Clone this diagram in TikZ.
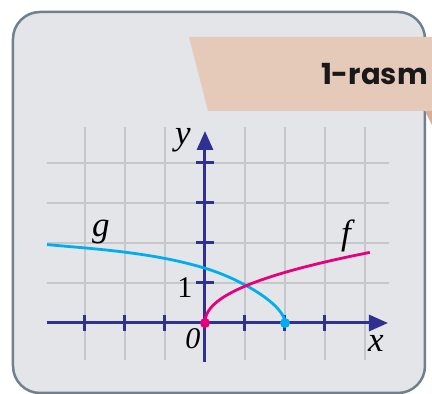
\documentclass[tikz,border=0pt]{standalone}
\usepackage{fontspec}
\setmainfont{Liberation Serif}
\newfontfamily\headfont{Poppins}
\usetikzlibrary{arrows.meta}
\definecolor{cardbg}{HTML}{E4E5E9}
\definecolor{cardrim}{HTML}{6F818A}
\definecolor{bandfill}{HTML}{E6CAB9}
\definecolor{bandfold}{HTML}{D6AE98}
\definecolor{gridgray}{HTML}{C6C7CB}
\definecolor{axisblue}{HTML}{2E3192}
\definecolor{fpink}{HTML}{E6007E}
\definecolor{gcyan}{HTML}{00AEEF}
\tikzset{
  card/.style={fill=cardbg,draw=cardrim,line width=2.5pt,rounded corners=27pt},
  band/.style={fill=bandfill},
  title/.style={font=\fontsize{29}{33}\selectfont\headfont\bfseries,text=black!90,inner sep=0pt},
  gridline/.style={gridgray,line width=2pt},
  axis/.style={axisblue,line width=3pt,-{Triangle[length=19pt,width=16pt]}},
  tickmark/.style={axisblue,line width=3pt},
  fgraph/.style={fpink,line width=2.8pt},
  ggraph/.style={gcyan,line width=2.8pt},
  dot/.style={circle,inner sep=0pt,minimum size=10pt},
  lbl/.style={font=\fontsize{35}{38}\selectfont\itshape},
  num/.style={font=\fontsize{30}{32}\selectfont},
}
\begin{document}
\begin{tikzpicture}[x=40pt,y=40pt]
  \useasboundingbox (-5.125,-1.775) rectangle (5.675,8.075);
  % --- card and title band ---
  \draw[card] (-4.8,-1.75) rectangle (5.5,7.775);
  \fill[bandfold] (5.5,5.3) -- (5.675,5.3) -- (5.675,4.95) -- cycle;
  \fill[band] (-0.4,7.15) -- (5.675,7.15) -- (5.675,5.3) -- (0.075,5.3) -- cycle;
  \node[title,anchor=base east] (ttl) at (5.575,5.95) {1-rasm};
  % --- grid ---
  \foreach \i in {-3,-2,-1,1,2,3,4} \draw[gridline] (\i,-0.925) -- (\i,4.9);
  \foreach \j in {1,...,4} \draw[gridline] (-3.95,\j) -- (4.6,\j);
  % --- axes with ticks ---
  \coordinate (O) at (0,0);
  \coordinate (G) at (2,0);
  \draw[axis] (-3.95,0) -- (4.575,0);
  \draw[axis] (0,-0.975) -- (0,4.8);
  \foreach \i in {-3,-2,-1,1,2,3} \draw[tickmark] (\i,-0.2) -- (\i,0.2);
  \foreach \j in {1,...,4} \draw[tickmark] (-0.22,\j) -- (0.22,\j);
  % --- graphs of g and f ---
  \draw[ggraph] (-3.95,1.96) .. controls (-2.65,1.843) and (-1.3,1.76) .. (0,1.37)
                .. controls (0.9,1.1) and (2,0.45) .. (G);
  \draw[fgraph] (O) -- plot[variable=\t,domain=0.03:2.031,samples=80] ({\t*\t},{0.92*\t^0.92});
  \node[dot,fill=fpink] (fo) at (O) {};
  \node[dot,fill=gcyan] (gz) at (G) {};
  % --- labels ---
  \node[lbl] (ly) at (-0.55,4.575) {y};
  \node[lbl] (lx) at (4.275,-0.5) {x};
  \node[lbl] (lg) at (-2.6,2.275) {g};
  \node[lbl] (lf) at (3.525,2.175) {f};
  \node[num] (l1) at (-0.5,0.875) {1};
  \node[num,font=\fontsize{30}{32}\selectfont\itshape] (l0) at (-0.3,-0.4) {0};
\end{tikzpicture}
\end{document}
